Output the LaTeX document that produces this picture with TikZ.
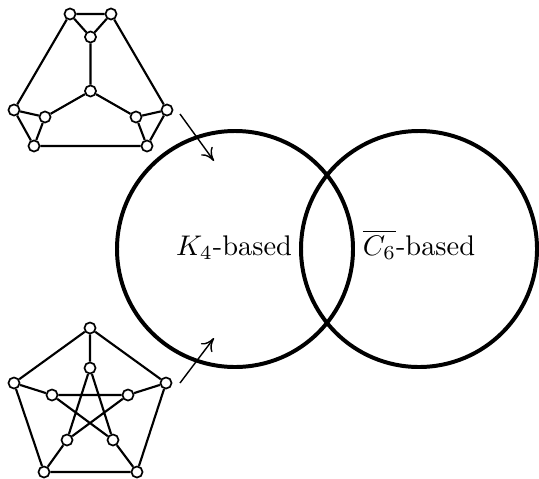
\documentclass[tikz,border=0pt]{standalone}
\usetikzlibrary{arrows.meta}
\begin{document}
\begin{tikzpicture}[x=0.352pt,y=-0.352pt,
  vtx/.style={circle,draw,fill=white,line width=0.6pt,inner sep=0pt,minimum size=3.9pt},
  edge/.style={line width=0.75pt},
  region/.style={line width=1.4pt},
  pointer/.style={line width=0.5pt,-{To[length=4.5pt,width=5pt]}}]
\useasboundingbox (0,0) rectangle (539,478);

% the two overlapping classes
\draw[region] (235,249) circle (118);
\draw[region] (419,249) circle (118);
\node[anchor=base] (lk4) at (234,255) {$K_4$-based};
\node[anchor=base] (lc6) at (419,255) {$\overline{C_6}$-based};

% K4 with each vertex replaced by a triangle
\node[vtx] (t1) at (70,14) {};
\node[vtx] (t2) at (111,14) {};
\node[vtx] (t3) at (90.5,37) {};
\node[vtx] (c)  at (90.5,91) {};
\node[vtx] (l1) at (14,110) {};
\node[vtx] (l2) at (45,117) {};
\node[vtx] (l3) at (34,146) {};
\node[vtx] (r1) at (167,110) {};
\node[vtx] (r2) at (136,117) {};
\node[vtx] (r3) at (147,146) {};
\draw[edge] (t1) -- (t2) (t2) -- (t3) (t3) -- (t1);
\draw[edge] (l1) -- (l2) (l2) -- (l3) (l3) -- (l1);
\draw[edge] (r1) -- (r2) (r2) -- (r3) (r3) -- (r1);
\draw[edge] (t3) -- (c) (c) -- (l2) (c) -- (r2);
\draw[edge] (t1) -- (l1) (t2) -- (r1) (l3) -- (r3);

% Petersen graph
\node[vtx] (o1) at (90,328) {};
\node[vtx] (o2) at (166,383) {};
\node[vtx] (o3) at (137,472) {};
\node[vtx] (o4) at (44,472) {};
\node[vtx] (o5) at (14,383) {};
\node[vtx] (i1) at (90,368) {};
\node[vtx] (i2) at (128,395) {};
\node[vtx] (i3) at (113,440) {};
\node[vtx] (i4) at (67,440) {};
\node[vtx] (i5) at (52,395) {};
\draw[edge] (o1) -- (o2) (o2) -- (o3) (o3) -- (o4) (o4) -- (o5) (o5) -- (o1);
\draw[edge] (o1) -- (i1) (o2) -- (i2) (o3) -- (i3) (o4) -- (i4) (o5) -- (i5);
\draw[edge] (i1) -- (i3) (i3) -- (i5) (i5) -- (i2) (i2) -- (i4) (i4) -- (i1);

% arrows pointing into the K4-based class
\coordinate (a1s) at (180,114);
\coordinate (a1e) at (214,161);
\coordinate (a2s) at (180,383);
\coordinate (a2e) at (214,338);
\draw[pointer] (a1s) -- (a1e);
\draw[pointer] (a2s) -- (a2e);
\end{tikzpicture}
\end{document}
